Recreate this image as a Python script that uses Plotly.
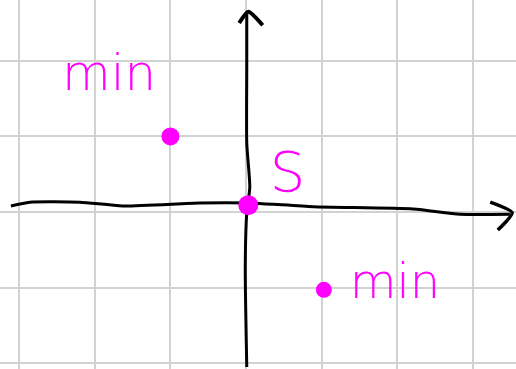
import plotly.graph_objects as go

# Points of interest on the plane
point_x = [-1.0, 0.03, 1.03]
point_y = [1.0, 0.09, -1.03]
point_size = [18, 20, 16]

# Labels next to the points
label_text = ["min", "S", "min"]
label_x = [-1.81, 0.55, 1.97]
label_y = [1.78, 0.46, -0.98]
label_size = [50, 56, 48]

# Hand-drawn axes (freehand paths in plane coordinates)
h_axis_x = [-3.11, -2.86, -2.20, -1.63, -0.61, 0.03, 0.89, 2.21, 2.83, 3.49]
h_axis_y = [0.08, 0.13, 0.13, 0.08, 0.12, 0.12, 0.07, 0.04, -0.03, -0.03]
h_head_x = [3.23, 3.52, 3.33]
h_head_y = [0.13, -0.01, -0.24]

v_axis_x = [0.01, -0.01, 0.01, 0.05, 0.01, 0.01, 0.01]
v_axis_y = [-2.05, -0.73, -0.01, 0.33, 0.91, 1.92, 2.63]
v_head_x = [-0.09, 0.03, 0.22]
v_head_y = [2.50, 2.65, 2.47]

ink = "#000000"
pink = "#ff00ff"

fig = go.Figure()

for xs, ys, w in [(h_axis_x, h_axis_y, 3), (h_head_x, h_head_y, 3.5),
                  (v_axis_x, v_axis_y, 3), (v_head_x, v_head_y, 4)]:
    fig.add_trace(go.Scatter(
        x=xs, y=ys, mode="lines",
        line=dict(color=ink, width=w, shape="spline", smoothing=0.6),
        hoverinfo="skip", showlegend=False,
    ))

fig.add_trace(go.Scatter(
    x=point_x, y=point_y, mode="markers",
    marker=dict(color=pink, size=point_size, opacity=1, line=dict(width=0)),
    showlegend=False,
))

for t, x, y, s in zip(label_text, label_x, label_y, label_size):
    fig.add_trace(go.Scatter(
        x=[x], y=[y], mode="text", text=[t],
        textposition="middle center",
        textfont=dict(family="DejaVu Sans", size=s, color=pink, weight=300),
        hoverinfo="skip", showlegend=False,
    ))

axis_common = dict(
    showticklabels=False, ticks="", zeroline=False,
    showgrid=True, gridcolor="#d2d2d2", gridwidth=2,
    dtick=1, tick0=0, showline=False, fixedrange=True,
)

fig.update_layout(
    width=516, height=369,
    margin=dict(l=0, r=0, t=0, b=0),
    paper_bgcolor="white", plot_bgcolor="white",
    xaxis=dict(range=[-3.254, 3.571], **axis_common),
    yaxis=dict(range=[-2.077, 2.804], **axis_common),
)

fig.write_html("out.html")
